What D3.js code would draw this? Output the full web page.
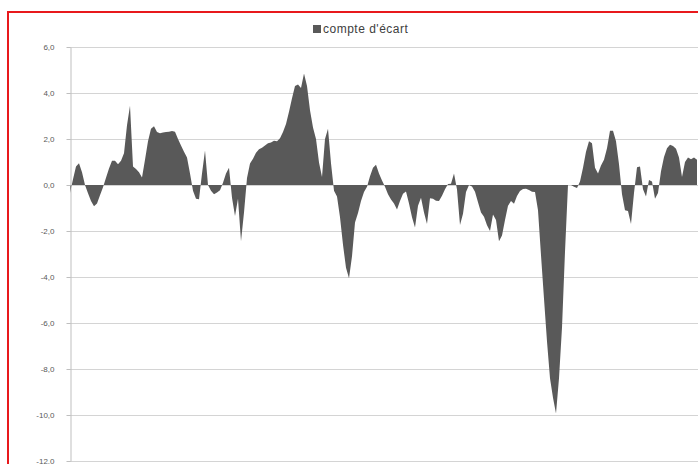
<!DOCTYPE html>
<html>
<head>
<meta charset="utf-8">
<script src="https://cdn.jsdelivr.net/npm/d3@7"></script>
<style>
  html, body { margin: 0; padding: 0; background: #fff; }
  svg { display: block; }
</style>
</head>
<body>
<svg id="chart" width="698" height="464"></svg>
<script>
// ---- data ----
const seriesName = "compte d'écart";
const values = [
  -0.35, 0.25, 0.8, 0.95, 0.55, 0, -0.36, -0.7, -0.92, -0.8,
  -0.45, -0.1, 0.32, 0.72, 1.05, 1.05, 0.9, 1.05, 1.38, 2.6,
  3.45, 0.8, 0.7, 0.55, 0.33, 1.1, 1.9, 2.45, 2.55, 2.3,
  2.25, 2.28, 2.3, 2.32, 2.35, 2.32, 2.0, 1.72, 1.45, 1.2,
  0.5, -0.25, -0.6, -0.62, 0.5, 1.5, 0, -0.25, -0.4, -0.33,
  -0.23, 0.1, 0.5, 0.75, -0.55, -1.35, -0.6, -2.45, -1.2, 0.3,
  0.94, 1.14, 1.4, 1.55, 1.62, 1.72, 1.81, 1.85, 1.92, 1.9,
  2.03, 2.3, 2.65, 3.18, 3.77, 4.3, 4.37, 4.22, 4.85, 4.3,
  3.25, 2.5, 2.0, 0.98, 0.35, 2.0, 2.45, 0.95, -0.25, -0.5,
  -1.4, -2.6, -3.6, -4.05, -3.1, -1.63, -1.22, -0.7, -0.3, -0.08,
  0.38, 0.75, 0.88, 0.5, 0.2, -0.08, -0.4, -0.63, -0.8, -1.06,
  -0.7, -0.38, -0.28, -0.8, -1.4, -1.85, -0.9, -0.55, -1.2, -1.7,
  -0.58, -0.6, -0.68, -0.7, -0.47, -0.18, 0.04, 0.05, 0.5, -0.2,
  -1.74, -1.25, -0.3, 0, -0.06, -0.29, -0.75, -1.2, -1.38, -1.75,
  -2.0, -1.28, -1.52, -2.45, -2.2, -1.52, -0.9, -0.7, -0.82, -0.48,
  -0.26, -0.17, -0.16, -0.22, -0.29, -0.3, -1.1, -3.05, -4.95, -6.8,
  -8.4, -9.25, -9.93, -8.4, -6.2, -2.9, 0, 0, -0.08, -0.13,
  0.15, 0.75, 1.45, 1.9, 1.81, 0.75, 0.5, 0.85, 1.1, 1.6,
  2.36, 2.36, 1.9, 0.9, -0.4, -1.1, -1.13, -1.7, -0.35, 0.77,
  0.8, -0.18, -0.5, 0.22, 0.15, -0.6, -0.35, 0.6, 1.22, 1.6,
  1.75, 1.7, 1.58, 1.2, 0.35, 1.0, 1.2, 1.12, 1.2, 1.1
];
const yTicks = [6, 4, 2, 0, -2, -4, -6, -8, -10, -12];
const yTickLabels = ["6,0", "4,0", "2,0", "0,0", "-2,0", "-4,0", "-6,0", "-8,0", "-10,0", "-12,0"];

// ---- layout ----
const svg = d3.select("#chart");
const plotLeft = 70, plotRight = 698;
const x = d3.scaleLinear().domain([0, values.length - 1]).range([plotLeft, 697]);
const y = d3.scaleLinear().domain([-12, 6]).range([461, 47]);

// gridlines
svg.append("g").selectAll("line").data(yTicks).join("line")
  .attr("x1", plotLeft).attr("x2", plotRight)
  .attr("y1", d => Math.round(y(d)) + 0.5).attr("y2", d => Math.round(y(d)) + 0.5)
  .attr("stroke", "#d4d4d4").attr("stroke-width", 1);

// area
const area = d3.area()
  .x((d, i) => x(i))
  .y0(y(0))
  .y1(d => y(d));
svg.append("path").datum(values)
  .attr("d", area)
  .attr("fill", "#595959");

// y axis
const yAxis = d3.axisLeft(y)
  .tickValues(yTicks)
  .tickFormat((d, i) => yTickLabels[i])
  .tickSizeInner(4).tickSizeOuter(0).tickPadding(12);
const gy = svg.append("g")
  .attr("transform", `translate(${plotLeft + 0.5},0)`)
  .call(yAxis);
gy.select(".domain").attr("stroke", "#bfbfbf");
gy.selectAll(".tick line").attr("stroke", "#bfbfbf");
gy.selectAll(".tick text")
  .attr("fill", "#595959")
  .style("font-family", "'Liberation Sans', Arial, sans-serif")
  .style("font-size", "8px");

// legend
const lg = svg.append("g");
lg.append("rect").attr("x", 313).attr("y", 25).attr("width", 8).attr("height", 8).attr("fill", "#595959");
lg.append("text").attr("x", 323).attr("y", 33)
  .text(seriesName)
  .attr("fill", "#404040")
  .style("font-family", "'Liberation Sans', Arial, sans-serif")
  .style("font-size", "12px")
  .style("letter-spacing", "0.5px");

// red frame
svg.append("line").attr("x1", 8).attr("x2", 8).attr("y1", 12).attr("y2", 464)
  .attr("stroke", "#e8191c").attr("stroke-width", 2);
svg.append("line").attr("x1", 7).attr("x2", 698).attr("y1", 12).attr("y2", 12)
  .attr("stroke", "#e8191c").attr("stroke-width", 2);
</script>
</body>
</html>
